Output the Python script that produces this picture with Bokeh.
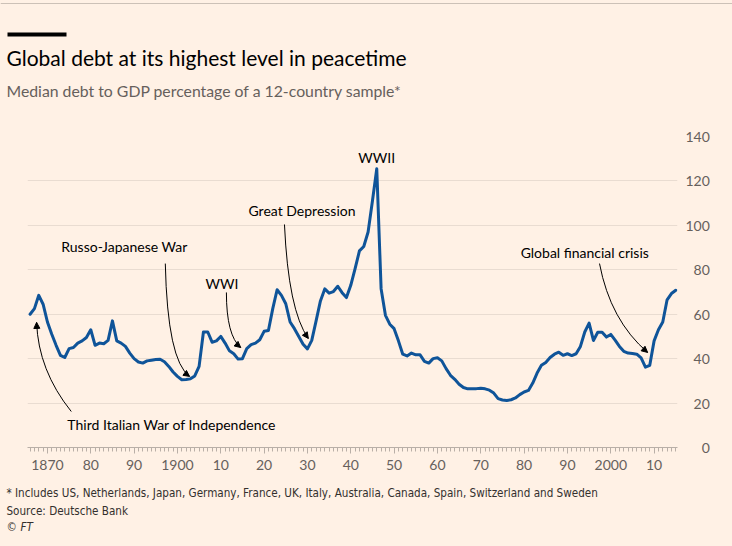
import numpy as np
from bokeh.plotting import figure
from bokeh.layouts import column
from bokeh.models import (Range1d, FixedTicker, Label, Arrow, NormalHead,
                          CustomJSTickFormatter, ColumnDataSource)
from bokeh.embed import file_html
from bokeh.resources import INLINE

# ---------------- data ----------------
years = list(range(1866, 2016))
debt = [
    60, 62.5, 68.5, 64.5,
    56.5, 51, 46, 41.5, 40.5, 44.5, 45, 47, 48, 49.5,
    53, 46, 47, 46.7, 48.2, 57, 48, 47, 45.5, 42.5,
    40, 38.5, 38, 39, 39.3, 39.6, 39.7, 38.6, 36.5, 34,
    32, 30.5, 30.6, 30.9, 32.2, 36.5, 52, 52, 47.4, 48,
    50, 47, 43.5, 42.2, 39.8, 40, 44.5, 46.3, 47, 48.5,
    52.3, 52.7, 62.5, 71, 68.5, 64.7, 56.5, 53.5, 50, 46.5,
    44.4, 48.2, 57, 66, 71.4, 69.5, 70.2, 72.6, 69.7, 67.5,
    73, 80.5, 88.5, 90.5, 97, 111, 125.5, 71.5, 59.5, 55.5,
    53.5, 48, 42, 41.2, 42.5, 41.7, 41.7, 38.8, 38, 40,
    40.4, 39, 35.5, 32.5, 30.7, 28.5, 27, 26.4, 26.4, 26.5,
    26.7, 26.4, 25.8, 24.5, 22, 21.4, 21.2, 21.5, 22.3, 23.8,
    25, 25.7, 29, 33.5, 37, 38.3, 40.5, 42, 42.9, 41.5,
    42.2, 41.4, 42.2, 45.5, 52, 56, 48.2, 51.9, 51.9, 49.7,
    50.9, 48.3, 45.5, 43.3, 42.5, 42.3, 42, 40.3, 36.2, 37,
    48, 53, 56.5, 66.5, 69.3, 70.8,
]
x_ticks = [1870, 1880, 1890, 1900, 1910, 1920, 1930, 1940, 1950, 1960,
           1970, 1980, 1990, 2000, 2010]
x_tick_labels = ["1870", "80", "90", "1900", "10", "20", "30", "40", "50", "60",
                 "70", "80", "90", "2000", "10"]
x_minor_ticks = list(range(1866, 2016))
y_ticks = [0, 20, 40, 60, 80, 100, 120, 140]

title = "Global debt at its highest level in peacetime"
subtitle = "Median debt to GDP percentage of a 12-country sample*"
footnote = ("* Includes US, Netherlands, Japan, Germany, France, UK, Italy, "
            "Australia, Canada, Spain, Switzerland and Sweden")
source = "Source: Deutsche Bank"

# annotations: (text, text_x, text_y, align, arrow tail, control, head) in data units
annotations = [
    ("Third Italian War of Independence", 1874.6, 10.3, "left",
     (1875.5, 16.2), (1867.9, 34.7), (1867.5, 56.3)),
    ("Russo-Japanese War", 1873.2, 90.5, "left",
     (1897.2, 82.8), (1897.7, 39.2), (1902.8, 32.0)),
    ("WWI", 1906.5, 73.8, "left",
     (1911.3, 69.8), (1911.3, 50.4), (1914.6, 45.0)),
    ("Great Depression", 1916.4, 106.7, "left",
     (1924.7, 100.4), (1925.6, 61.7), (1930.2, 49.1)),
    ("WWII", 1946.0, 130.5, "center", None, None, None),
    ("Global financial crisis", 1979.2, 87.8, "left",
     (1997.4, 82.8), (1999.9, 57.2), (2008.5, 42.8)),
]

# ---------------- style ----------------
BG = "#FFF1E5"
FONT = "Lato"
W = 732
HEAD_H, MAIN_H, FOOT_H = 110, 370, 66
L, R = 27, 677           # frame left/right (canvas px)
T, B = 136, 447          # frame top/bottom (canvas px)


def panel(height):
    f = figure(width=W, height=height, output_backend="svg", toolbar_location=None,
               x_range=Range1d(0, W), y_range=Range1d(height, 0),
               min_border=0, min_border_left=0, min_border_right=0,
               min_border_top=0, min_border_bottom=0,
               x_axis_location=None, y_axis_location=None,
               background_fill_color=BG, border_fill_color=BG,
               outline_line_color=None, frame_align=False)
    f.xgrid.visible = False
    f.ygrid.visible = False
    return f


# ---------------- header ----------------
head = panel(HEAD_H)
head.quad(left=[0], right=[W], top=[2.5], bottom=[3.5], fill_color="#CCC1B7", line_color=None)
head.quad(left=[7], right=[66], top=[32], bottom=[36], fill_color="#000000", line_color=None)
head.add_layout(Label(x=6, y=57, text=title, text_baseline="middle", text_font=FONT,
                      text_font_size="21px", text_color="#000000"))
head.add_layout(Label(x=6, y=90, text=subtitle, text_baseline="middle", text_font=FONT,
                      text_font_size="15.8px", text_color="#66605C"))

# ---------------- main chart ----------------
p = figure(width=W, height=MAIN_H, output_backend="svg", toolbar_location=None,
           x_range=Range1d(1865.4, 2015.4), y_range=Range1d(0, 140),
           min_border_left=L, min_border_right=W - R,
           min_border_top=T - HEAD_H, min_border_bottom=HEAD_H + MAIN_H - B,
           background_fill_color=BG, border_fill_color=BG,
           outline_line_color=None, y_axis_location="right", frame_align=False)

src = ColumnDataSource(dict(year=years, debt=debt))
p.line("year", "debt", source=src, line_color="#0F5499", line_width=3,
       line_join="round", line_cap="round")

xa = p.xaxis[0]
xa.ticker = FixedTicker(ticks=x_ticks, minor_ticks=x_minor_ticks)
xa.major_label_overrides = {t: l for t, l in zip(x_ticks, x_tick_labels)}
xa.axis_line_color = "#B9AFA7"
xa.major_tick_line_color = "#B9AFA7"
xa.minor_tick_line_color = "#B9AFA7"
xa.major_tick_in = 0
xa.major_tick_out = 6
xa.minor_tick_in = 0
xa.minor_tick_out = 4
xa.major_label_standoff = 6
xa.major_label_text_font = FONT
xa.major_label_text_font_size = "14px"
xa.major_label_text_color = "#66605C"

ya = p.yaxis[0]
ya.ticker = FixedTicker(ticks=y_ticks)
ya.formatter = CustomJSTickFormatter(code="return String(tick).padStart(3, '\\u2007');")
ya.axis_line_color = None
ya.major_tick_line_color = None
ya.minor_tick_line_color = None
ya.major_label_standoff = 2
ya.major_label_text_font = FONT
ya.major_label_text_font_size = "14px"
ya.major_label_text_color = "#66605C"

p.xgrid.grid_line_color = None
p.ygrid.grid_line_color = "#E9DCD1"
p.ygrid.grid_line_width = 1

for text, tx, ty, align, tail, ctrl, headpt in annotations:
    p.add_layout(Label(x=tx, y=ty, text=text, text_align=align, text_baseline="middle",
                       text_font=FONT, text_font_size="14px", text_color="#000000"))
    if tail is None:
        continue
    p.quadratic(x0=[tail[0]], y0=[tail[1]], x1=[headpt[0]], y1=[headpt[1]],
                cx=[ctrl[0]], cy=[ctrl[1]], line_color="#000000", line_width=1)
    ax = headpt[0] - 0.08 * (headpt[0] - ctrl[0])
    ay = headpt[1] - 0.08 * (headpt[1] - ctrl[1])
    p.add_layout(Arrow(end=NormalHead(size=6, fill_color="#000000", line_color="#000000"),
                       x_start=ax, y_start=ay, x_end=headpt[0], y_end=headpt[1],
                       line_color="#000000", line_width=1))

# ---------------- footer ----------------
foot = panel(FOOT_H)
top0 = HEAD_H + MAIN_H
FOOT_FONT = "DejaVu Sans Condensed"
for txt, cy in [(footnote, 492), (source, 510), ("\u00a9", 526)]:
    foot.add_layout(Label(x=6, y=cy - top0, text=txt, text_baseline="middle",
                          text_font=FOOT_FONT, text_font_size="11.6px",
                          text_color="#33302E"))
foot.add_layout(Label(x=20, y=526 - top0, text="FT", text_baseline="middle",
                      text_font=FOOT_FONT, text_font_size="11.6px",
                      text_color="#33302E", text_font_style="italic"))

layout = column(head, p, foot, spacing=0)
layout.styles = {"background-color": BG}
open("out.html", "w").write(file_html(layout, INLINE))
